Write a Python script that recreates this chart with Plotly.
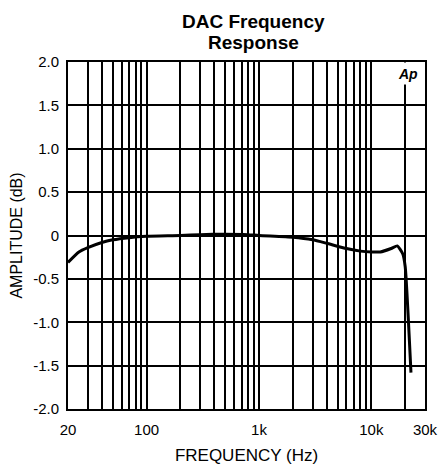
import plotly.graph_objects as go
import numpy as np

freq_hz = [20, 25, 30, 40, 50, 70, 100, 200, 300, 500, 800, 1000, 2000, 3000, 4000,
           6000, 8000, 10000, 12000, 15000, 17000, 19000, 20000, 22500]
amp_db = [-0.31, -0.19, -0.14, -0.08, -0.05, -0.025, -0.01, 0.0, 0.01, 0.015, 0.01, 0.0,
          -0.02, -0.05, -0.09, -0.15, -0.18, -0.19, -0.19, -0.15, -0.12, -0.21, -0.36, -1.58]

grid_x = [20, 30, 40, 50, 60, 70, 80, 90, 100, 200, 300, 400, 500, 600, 700, 800, 900,
          1000, 2000, 3000, 4000, 5000, 6000, 7000, 8000, 9000, 10000, 20000, 30000]
label_map = {20: "20", 100: "100", 1000: "1k", 10000: "10k", 30000: "30k"}
y_ticks = [2.0, 1.5, 1.0, 0.5, 0, -0.5, -1.0, -1.5, -2.0]
y_labels = ["2.0", "1.5", "1.0", "0.5", "0", "-0.5", "-1.0", "-1.5", "-2.0"]

FONT = "Liberation Sans, Arial, Helvetica, sans-serif"

# page has an 8px body margin; figure is sized/margined to compensate
W, H = 439, 457
ML, MR, MT, MB = 60, 22, 54, 56
PH = H - MT - MB

fig = go.Figure()
fig.add_trace(go.Scatter(x=freq_hz, y=amp_db, mode="lines",
                         line=dict(color="black", width=3, shape="spline", smoothing=0.5),
                         showlegend=False, hoverinfo="skip"))

fig.update_layout(
    width=W, height=H,
    margin=dict(l=ML, r=MR, t=MT, b=MB, autoexpand=False),
    paper_bgcolor="white", plot_bgcolor="white",
    font=dict(family=FONT, color="black", size=15),
)
fig.update_xaxes(type="log", range=[np.log10(20), np.log10(30000)],
                 tickmode="array", tickvals=grid_x,
                 ticktext=[label_map.get(v, "") for v in grid_x],
                 showgrid=True, gridcolor="black", gridwidth=2,
                 showline=True, linecolor="black", linewidth=2, mirror=True,
                 ticks="", tickfont=dict(size=15, family=FONT), automargin=False,
                 ticklabelstandoff=6,
                 title=dict(text="FREQUENCY (Hz)", font=dict(size=17, family=FONT), standoff=15),
                 zeroline=False, fixedrange=True)
fig.update_yaxes(range=[-2.0, 2.0], tickmode="array", tickvals=y_ticks, ticktext=y_labels,
                 showgrid=True, gridcolor="black", gridwidth=2,
                 showline=True, linecolor="black", linewidth=2, mirror=True,
                 ticks="", tickfont=dict(size=15, family=FONT), automargin=False,
                 ticklabelstandoff=4,
                 title=dict(text="AMPLITUDE (dB)", font=dict(size=16, family=FONT), standoff=8),
                 zeroline=False, fixedrange=True)

title_x = (245 - ML) / 357
for line, py in (("DAC Frequency", 14), ("Response", 34)):
    fig.add_annotation(x=title_x, y=(H - MB - py) / PH, xref="paper", yref="paper",
                       text="<b>" + line + "</b>", showarrow=False,
                       font=dict(size=19, family=FONT, color="black"),
                       xanchor="center", yanchor="middle")

fig.add_annotation(x=np.log10(21000), y=1.873, xref="x", yref="y", text="<b><i>Ap</i></b>",
                   showarrow=False, font=dict(size=14, family=FONT, color="black"),
                   bgcolor="white", width=20, height=19, xanchor="center", yanchor="middle")

fig.write_html("out.html")
